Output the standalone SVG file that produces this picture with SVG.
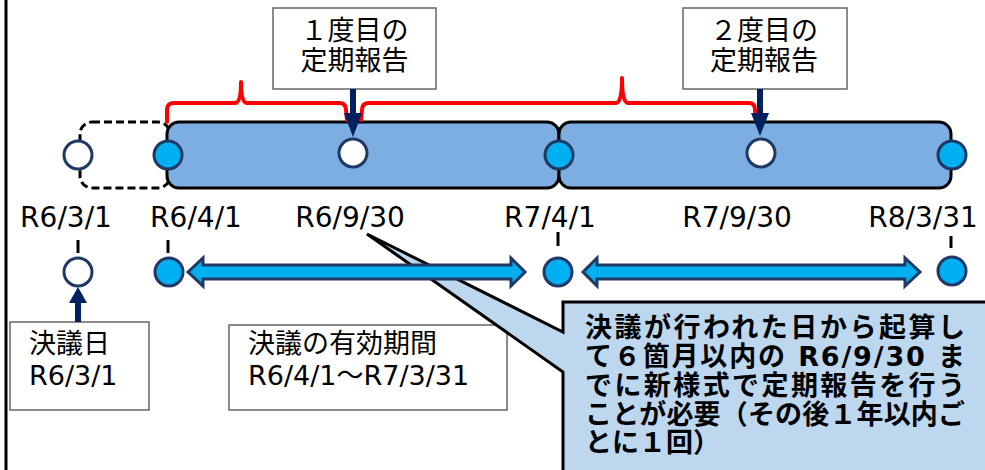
<svg xmlns="http://www.w3.org/2000/svg" width="985" height="470" viewBox="0 0 985 470">
<defs>
<style>
.jp{font-family:"DejaVu Sans","Noto Sans CJK JP",sans-serif;font-size:27px;fill:#000}
.date{font-family:"DejaVu Sans","Noto Sans CJK JP",sans-serif;font-size:28px;fill:#000;text-anchor:middle}
.cb{font-family:"DejaVu Sans","Noto Sans CJK JP",sans-serif;font-size:27px;font-weight:bold;fill:#000}
.box{fill:#fff;stroke:#666;stroke-width:1.5}
.bar{fill:#7DAEE2;stroke:#000;stroke-width:3}
.cw{fill:#fff;stroke:#1F3864;stroke-width:3}
.cbl{fill:#00B0F0;stroke:#1F3864;stroke-width:3}
.tick{stroke:#000;stroke-width:3}
.brace{fill:none;stroke:#FF0000;stroke-width:4;stroke-linejoin:round;stroke-linecap:round}
.nav{stroke:#002060;stroke-width:6;fill:none}
.navh{fill:#002060}
.barrow{fill:#00B0F0;stroke:#1F3864;stroke-width:3;stroke-linejoin:miter}
</style>
</defs>
<rect width="985" height="470" fill="#fff"/>
<line x1="6" y1="0" x2="6" y2="470" stroke="#000" stroke-width="3"/>

<g id="period-prior">
<rect x="80" y="122" width="90" height="66" rx="12" fill="none" stroke="#000" stroke-width="3" stroke-dasharray="8 4"/>
</g>
<g id="bar1"><rect class="bar" x="167" y="122" width="392" height="66" rx="12"/></g>
<g id="bar2"><rect class="bar" x="559" y="122" width="392" height="66" rx="12"/></g>

<g id="report1-box">
<rect class="box" x="273" y="8" width="163" height="81"/>
<text class="jp" x="354.5" y="40" text-anchor="middle">１度目の</text>
<text class="jp" x="354.5" y="70" text-anchor="middle">定期報告</text>
</g>
<g id="report2-box">
<rect class="box" x="683" y="8" width="164" height="81"/>
<text class="jp" x="764" y="40" text-anchor="middle">２度目の</text>
<text class="jp" x="764" y="70" text-anchor="middle">定期報告</text>
</g>

<g id="braces">
<path class="brace" d="M167 122 L167 110 Q167 103 174 103 L235 103 Q241 103 241 82 Q241 103 247 103 L339 103 Q346 103 346 110 L347 120"/>
<path class="brace" d="M361 120 L362 110 Q362 103 369 103 L616 103 Q622 103 622 78 Q622 103 628 103 L749 103 Q755 103 755 110 L756 120"/>
</g>

<g id="top-circles">
<circle class="cw" cx="78" cy="155" r="14"/>
<circle class="cbl" cx="168" cy="155" r="14"/>
<circle class="cw" cx="353" cy="153" r="14"/>
<circle class="cbl" cx="559" cy="155" r="14"/>
<circle class="cw" cx="761" cy="153" r="14"/>
<circle class="cbl" cx="952" cy="155" r="14"/>
</g>

<g id="date-labels">
<text class="date" x="66" y="227">R6/3/1</text>
<text class="date" x="196" y="227">R6/4/1</text>
<text class="date" x="350" y="227">R6/9/30</text>
<text class="date" x="550" y="227">R7/4/1</text>
<text class="date" x="737" y="227">R7/9/30</text>
<text class="date" x="923" y="227">R8/3/31</text>
<line class="tick" x1="78" y1="240" x2="78" y2="253"/>
<line class="tick" x1="168" y1="240" x2="168" y2="253"/>
<line class="tick" x1="558" y1="232" x2="558" y2="246"/>
<line class="tick" x1="951" y1="236" x2="951" y2="248"/>
</g>

<g id="resolution-box">
<rect class="box" x="10" y="322" width="139" height="88"/>
<text class="jp" x="29" y="353">決議日</text>
<text class="jp" x="29" y="385">R6/3/1</text>
</g>
<g id="validity-box">
<rect class="box" x="229" y="325" width="278" height="85"/>
<text class="jp" x="248" y="353">決議の有効期間</text>
<text class="jp" x="248" y="385">R6/4/1～R7/3/31</text>
</g>

<g id="callout">
<path d="M563 302 L995 302 L995 480 L563 480 L563 372 L367 234 L563 332 Z" fill="#BDD7EE" stroke="#000" stroke-width="3" stroke-linejoin="miter"/>
<text class="cb" x="585" y="337" textLength="380" lengthAdjust="spacing">決議が行われた日から起算し</text>
<text class="cb" x="585" y="366" textLength="380" lengthAdjust="spacing">て６箇月以内の R6/9/30 ま</text>
<text class="cb" x="585" y="395" textLength="380" lengthAdjust="spacing">でに新様式で定期報告を行う</text>
<text class="cb" x="585" y="424" textLength="380" lengthAdjust="spacing">ことが必要（その後１年以内ご</text>
<text class="cb" x="585" y="452">とに１回）</text>
</g>

<g id="connectors">
<line class="nav" x1="353" y1="89" x2="353" y2="115"/>
<polygon class="navh" points="344,113 362,113 353,137"/>
<line class="nav" x1="760" y1="89" x2="760" y2="115"/>
<polygon class="navh" points="751,113 769,113 760,136"/>
<line class="nav" x1="78" y1="322" x2="78" y2="301"/>
<polygon class="navh" points="69,303 87,303 78,287"/>
<path class="barrow" d="M188 272 L203 258 L203 265 L511 265 L511 258 L525 272 L511 286 L511 279 L203 279 L203 286 Z"/>
<path class="barrow" d="M583 272 L597 258 L597 265 L905 265 L905 258 L920 272 L905 286 L905 279 L597 279 L597 286 Z"/>
</g>

<g id="bottom-circles">
<circle class="cw" cx="78" cy="272" r="14"/>
<circle class="cbl" cx="169" cy="272" r="14"/>
<circle class="cbl" cx="558" cy="272" r="14"/>
<circle class="cbl" cx="952" cy="271" r="14"/>
</g>
</svg>
